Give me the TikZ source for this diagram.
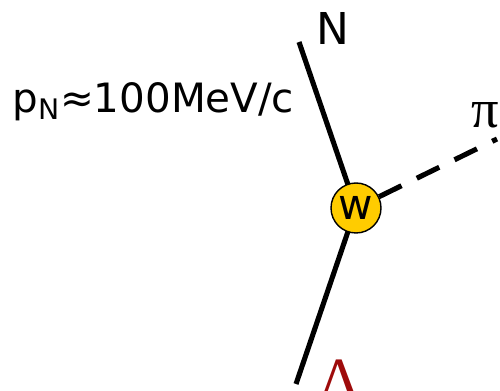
\documentclass[tikz,border=0pt]{standalone}
\usepackage{fontspec}
\setmainfont{DejaVu Sans}
\newfontfamily\greekfont{Liberation Serif}
\definecolor{wgold}{HTML}{FFCC00}
\definecolor{lambdared}{HTML}{9E0B0B}
\begin{document}
\begin{tikzpicture}[x=0.02cm, y=-0.02cm, line cap=butt, line join=round,
  particle/.style={line width=2.9pt},
  meson/.style={line width=2.9pt, dash pattern=on 0.5cm off 0.34cm},
  vertex/.style={circle, draw, line width=0.8pt, fill=wgold, minimum size=1cm, inner sep=0pt, font=\fontsize{24}{26}\selectfont},
  lbl/.style={inner sep=0pt, anchor=base west}]
  \useasboundingbox (0,0) rectangle (500,391);

  \coordinate (nEnd) at (299,42);
  \coordinate (lEnd) at (296,384);
  \coordinate (piEnd) at (497,139);

  \draw[particle] (nEnd) -- (356,208);
  \draw[particle] (356,208) -- (lEnd);
  \node[vertex] (w) at (356,208) {w};
  \draw[meson] (w) -- (piEnd);

  \node[lbl] (pN) at (12,113) {\fontsize{23}{28}\selectfont p\textsubscript{N}≈100MeV/c};
  \node[lbl] (nLbl) at (316,45) {\fontsize{25}{28}\selectfont N};
  \node[lbl] (piLbl) at (471,128) {\fontsize{31}{34}\selectfont\greekfont π};
  \node[lbl, anchor=base, text=lambdared] (lLbl) at (340,400) {\fontsize{35}{40}\selectfont\greekfont Λ};
\end{tikzpicture}
\end{document}
